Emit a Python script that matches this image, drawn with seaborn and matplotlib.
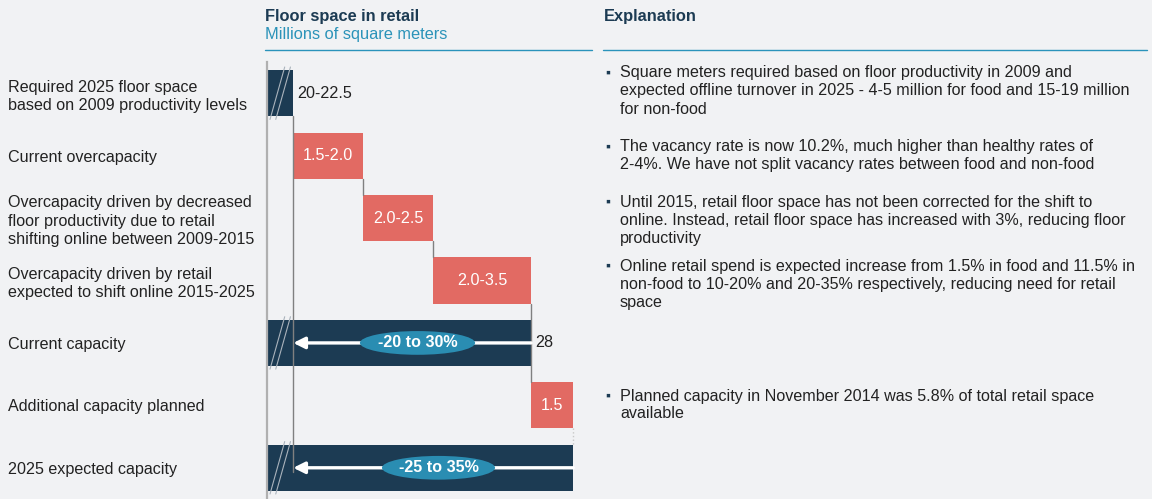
import pandas as pd
import matplotlib.pyplot as plt
import seaborn as sns
from matplotlib.patches import Ellipse
from matplotlib.lines import Line2D

# rows of the waterfall, top to bottom
row_labels = ['Required 2025 floor space\nbased on 2009 productivity levels',
              'Current overcapacity',
              'Overcapacity driven by decreased\nfloor productivity due to retail\nshifting online between 2009-2015',
              'Overcapacity driven by retail\nexpected to shift online 2015-2025',
              'Current capacity',
              'Additional capacity planned',
              '2025 expected capacity']
value_text = ['20-22.5', '1.5-2.0', '2.0-2.5', '2.0-3.5', '28', '1.5', '']
bar_start = [20.0, 20.75, 22.75, 24.75, 20.0, 27.55, 20.0]
bar_len = [0.75, 2.0, 2.0, 2.8, 7.55, 1.2, 8.75]
bar_kind = ['total', 'delta', 'delta', 'delta', 'total', 'delta', 'total']
range_text = {4: '-20 to 30%', 6: '-25 to 35%'}

explanations = [
    (0, ['Square meters required based on floor productivity in 2009 and',
         'expected offline turnover in 2025 - 4-5 million for food and 15-19 million',
         'for non-food']),
    (1, ['The vacancy rate is now 10.2%, much higher than healthy rates of',
         '2-4%. We have not split vacancy rates between food and non-food']),
    (2, ['Until 2015, retail floor space has not been corrected for the shift to',
         'online. Instead, retail floor space has increased with 3%, reducing floor',
         'productivity']),
    (3, ['Online retail spend is expected increase from 1.5% in food and 11.5% in',
         'non-food to 10-20% and 20-35% respectively, reducing need for retail',
         'space']),
    (5, ['Planned capacity in November 2014 was 5.8% of total retail space',
         'available']),
]

bg = '#f1f2f4'
navy = '#1c3b53'
red = '#e26a63'
teal = '#2a8db2'
W, H = 1152, 499
fs = 11.6

sns.set_style('white')
plt.rcParams['font.family'] = ['Liberation Sans', 'DejaVu Sans']

df = pd.DataFrame({'row': row_labels, 'length': bar_len, 'start': bar_start, 'kind': bar_kind})
colors = [navy if k == 'total' else red for k in bar_kind]

fig = plt.figure(figsize=(W / 100, H / 100), dpi=100, facecolor=bg)
ax = fig.add_axes([267 / W, 0, 323 / W, 437 / H])
ax.set_facecolor(bg)

bh = 0.737
sns.barplot(data=df, x='length', y='row', hue='row', palette=colors, dodge=False,
            legend=False, width=bh, orient='h', ax=ax, saturation=1)
# move each bar to its waterfall start
for patch, s in zip(ax.patches, bar_start):
    patch.set_x(s)
    patch.set_linewidth(0)

ax.set_xlim(20, 20 + 323 / 35)
ax.set_ylim(6.5, -0.5)
ax.set_xticks([])
ax.set_xlabel('')
ax.set_ylabel('')
for sp in ['top', 'right', 'bottom']:
    ax.spines[sp].set_visible(False)
ax.spines['left'].set_color('#b0b0b0')
ax.spines['left'].set_linewidth(1.6)
ax.tick_params(axis='y', length=0, pad=186.5, labelsize=fs, labelcolor='#222222')
for lab in ax.get_yticklabels():
    lab.set_ha('left')
    lab.set_linespacing(1.28)

ends = [s + l for s, l in zip(bar_start, bar_len)]

# connectors
ax.plot([ends[0]] * 2, [0 + bh / 2, 6.07], color='#808080', lw=1, zorder=1)
ax.plot([ends[1]] * 2, [1 + bh / 2, 2 - bh / 2], color='#808080', lw=1, zorder=1)
ax.plot([ends[2]] * 2, [2 + bh / 2, 3 - bh / 2], color='#808080', lw=1, zorder=1)
ax.plot([ends[3]] * 2, [3 + bh / 2, 5 - bh / 2], color='#808080', lw=1, zorder=1)
ax.plot([ends[5]] * 2, [5 + bh / 2, 6 - bh / 2], color='#c8c8c8', lw=1, ls=':', zorder=1)

# value labels
for i, t in enumerate(value_text):
    if not t:
        continue
    if bar_kind[i] == 'total':
        ax.text(ends[i] + 0.12, i, t, ha='left', va='center', fontsize=fs, color='#222222')
    else:
        ax.text(bar_start[i] + bar_len[i] / 2, i, t, ha='center', va='center',
                fontsize=fs, color='white')

# axis break marks
for i, k in enumerate(bar_kind):
    if k != 'total':
        continue
    for x0 in (20.086, 20.25):
        ax.plot([x0, x0 + 0.42], [i + 0.42, i - 0.42], color='#aab3bc', lw=0.8,
                clip_on=False, zorder=4)

# arrows with ranges
ell_pos = {4: (24.3, 3.29), 6: (24.9, 3.23)}
for i, t in range_text.items():
    ax.annotate('', xy=(ends[0], i), xytext=(ends[i], i),
                arrowprops=dict(arrowstyle='-|>', color='white', lw=2.4,
                                mutation_scale=17, shrinkA=0, shrinkB=0), zorder=5)
    cx, ew = ell_pos[i]
    ax.add_patch(Ellipse((cx, i), ew, 0.38, facecolor=teal, edgecolor='none', zorder=6))
    ax.text(cx, i, t, ha='center', va='center', fontsize=fs, color='white',
            fontweight='bold', zorder=7)


def fx(x):
    return x / W


def fy(y):
    return 1 - y / H


# headers
fig.text(fx(265), fy(17), 'Floor space in retail', fontsize=11.8, fontweight='bold',
         color=navy, va='center')
fig.text(fx(265), fy(35), 'Millions of square meters', fontsize=11.8, color='#2b93b9',
         va='center')
fig.text(fx(604), fy(17), 'Explanation', fontsize=11.8, fontweight='bold', color=navy,
         va='center')
fig.add_artist(Line2D([fx(265), fx(592)], [fy(50), fy(50)], color='#2a93bb', lw=1))
fig.add_artist(Line2D([fx(603), fx(1147)], [fy(50), fy(50)], color='#2a93bb', lw=1))

# explanation bullets
first_y = {0: 73, 1: 147, 2: 202, 3: 266, 5: 396}
for row, lines in explanations:
    y0 = first_y[row]
    fig.text(fx(605), fy(y0), '▪', fontsize=10, color=navy, va='center')
    for j, line in enumerate(lines):
        fig.text(fx(620), fy(y0 + 18 * j), line, fontsize=fs, color='#222222', va='center')

fig.savefig('out.png', dpi=100, facecolor=bg)
